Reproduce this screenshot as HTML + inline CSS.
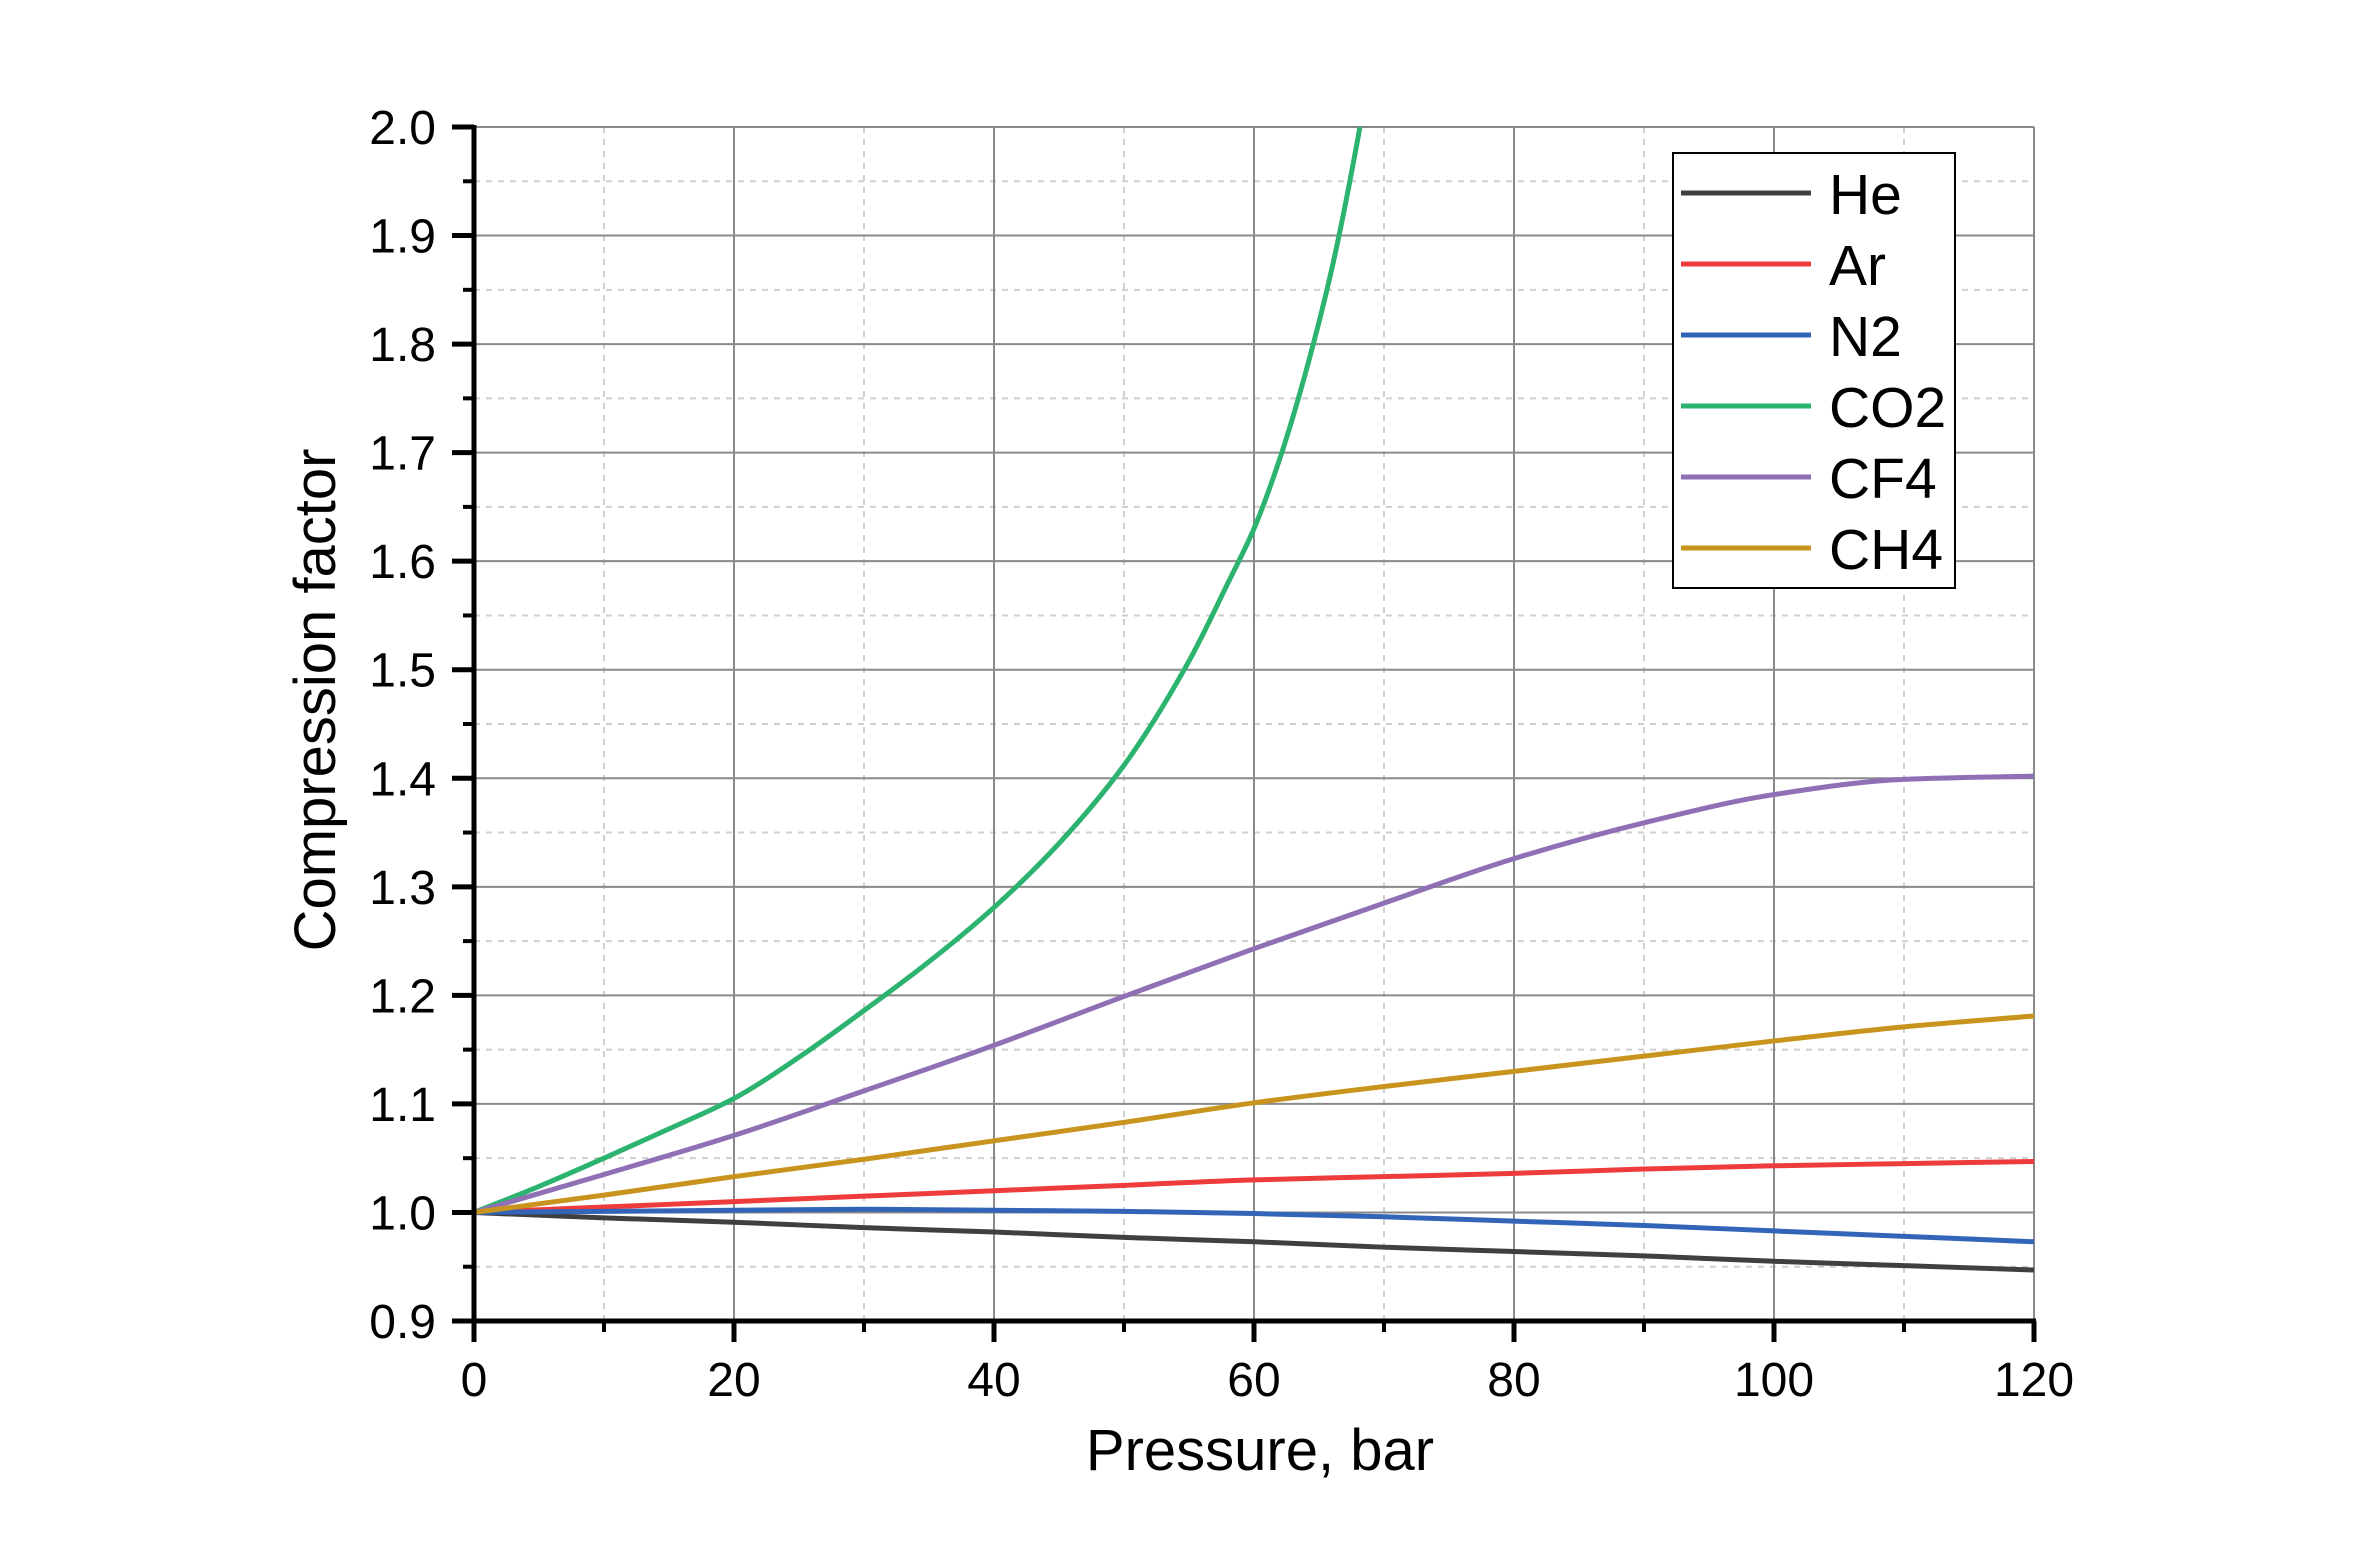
<!DOCTYPE html>
<html><head><meta charset="utf-8"><style>
html,body{margin:0;padding:0;background:#fff;}
svg{display:block;font-family:"Liberation Sans",Arial,sans-serif;}
</style></head><body>
<svg id="chart" width="2362" height="1567" viewBox="0 0 2362 1567" xmlns="http://www.w3.org/2000/svg">
<defs><clipPath id="plotclip"><rect x="474" y="127" width="1560" height="1194"/></clipPath></defs>
<g id="grid"></g>
<g id="series" clip-path="url(#plotclip)"></g>
<g id="axes"></g>
<text x="0" y="0" transform="translate(335,700) rotate(-90)" text-anchor="middle" font-size="58">Compression factor</text>
<text x="1260" y="1470" text-anchor="middle" font-size="58">Pressure, bar</text>
<g id="legend"></g>
</svg>
<script>
const xTicks = [0,20,40,60,80,100,120];
const yTicks = [0.9,1.0,1.1,1.2,1.3,1.4,1.5,1.6,1.7,1.8,1.9,2.0];
const yTickLabels = ["0.9","1.0","1.1","1.2","1.3","1.4","1.5","1.6","1.7","1.8","1.9","2.0"];
const seriesNames = ["He","Ar","N2","CO2","CF4","CH4"];
const seriesColors = ["#404040","#ee3b3b","#3264b8","#2bb36f","#8f70b5","#c9941e"];
const pStd = [0,10,20,30,40,50,60,70,80,90,100,110,120];
const zHe  = [1.0,0.995,0.991,0.986,0.982,0.977,0.973,0.968,0.964,0.960,0.955,0.951,0.947];
const zAr  = [1.0,1.005,1.010,1.015,1.020,1.025,1.030,1.033,1.036,1.040,1.043,1.045,1.047];
const zN2  = [1.0,1.001,1.002,1.003,1.002,1.001,0.999,0.996,0.992,0.988,0.983,0.978,0.973];
const zCF4 = [1.0,1.035,1.071,1.112,1.154,1.199,1.243,1.285,1.326,1.359,1.385,1.399,1.402];
const zCH4 = [1.0,1.016,1.033,1.049,1.066,1.083,1.101,1.116,1.130,1.144,1.158,1.171,1.181];
const pCO2 = [0,5,10,15,20,25,30,35,40,45,50,55,58,60,62,64,66,68,69];
const zCO2 = [1.0,1.024,1.050,1.077,1.105,1.143,1.186,1.231,1.281,1.340,1.412,1.508,1.58,1.63,1.695,1.775,1.87,1.99,2.06];

const X0=474, X1=2034, Y0=1321, Y1=127;
const xScale = v => X0 + (v-0)/(120-0)*(X1-X0);
const yScale = v => Y0 - (v-0.9)/(2.0-0.9)*(Y0-Y1);
const NS="http://www.w3.org/2000/svg";
function mk(tag, attrs, parent){const e=document.createElementNS(NS,tag);for(const k in attrs)e.setAttribute(k,attrs[k]);parent.appendChild(e);return e;}
const grid=document.getElementById('grid'), axes=document.getElementById('axes'), ser=document.getElementById('series'), leg=document.getElementById('legend');

for(let v=10; v<120; v+=20){const x=xScale(v);
  const l=mk('line',{x1:x,y1:Y1,x2:x,y2:Y0,stroke:'#cfcfcf','stroke-width':2,'stroke-dasharray':'6 6'},grid);
  
  }
for(let i=0;i<11;i++){const y=yScale(0.95+i*0.1);
  const l=mk('line',{x1:X0,y1:y,x2:X1,y2:y,stroke:'#cfcfcf','stroke-width':2,'stroke-dasharray':'6 6'},grid);
  
  }
xTicks.forEach(v=>{if(v===0)return;const x=xScale(v);
  const l=mk('line',{x1:x,y1:Y1,x2:x,y2:Y0,stroke:'#8a8a8a','stroke-width':2},grid);
  
  });
yTicks.forEach(v=>{if(v===0.9)return;const y=yScale(v);
  const l=mk('line',{x1:X0,y1:y,x2:X1,y2:y,stroke:'#8a8a8a','stroke-width':2},grid);
  
  });

// monotone cubic (Fritsch-Carlson) path, handles non-uniform spacing
function smoothPath(xs, ys){
  const px=xs.map(xScale), py=ys.map(yScale), n=px.length;
  const d=[],m=new Array(n);
  for(let i=0;i<n-1;i++) d.push((py[i+1]-py[i])/(px[i+1]-px[i]));
  m[0]=d[0]; m[n-1]=d[n-2];
  for(let i=1;i<n-1;i++){
    if(d[i-1]*d[i]<=0) m[i]=0;
    else {const h0=px[i]-px[i-1],h1=px[i+1]-px[i];
      const w1=2*h1+h0,w2=h1+2*h0;
      m[i]=(w1+w2)/(w1/d[i-1]+w2/d[i]);}
  }
  let s='M'+px[0]+','+py[0];
  for(let i=0;i<n-1;i++){const h=px[i+1]-px[i];
    s+=' C'+(px[i]+h/3)+','+(py[i]+m[i]*h/3)+' '+(px[i+1]-h/3)+','+(py[i+1]-m[i+1]*h/3)+' '+px[i+1]+','+py[i+1];}
  return s;
}
const seriesData=[[pStd,zHe],[pStd,zAr],[pStd,zN2],[pCO2,zCO2],[pStd,zCF4],[pStd,zCH4]];
seriesData.forEach((s,i)=>{
  const p=mk('path',{d:smoothPath(s[0],s[1]),fill:'none',stroke:seriesColors[i],'stroke-width':5,'stroke-linejoin':'round'},ser);
  
  
});

const ya=mk('line',{x1:X0,y1:Y1-2,x2:X0,y2:Y0+21,stroke:'#000','stroke-width':5},axes);


const xa=mk('line',{x1:X0-22,y1:Y0,x2:X1+2,y2:Y0,stroke:'#000','stroke-width':5},axes);


xTicks.forEach(v=>{const x=xScale(v);
  const t=mk('line',{x1:x,y1:Y0,x2:x,y2:Y0+21,stroke:'#000','stroke-width':5},axes);
  
  
  const tx=mk('text',{x:x,y:1396,'text-anchor':'middle','font-size':48},axes);
  tx.textContent=String(v);
  
  });
for(let v=10;v<120;v+=20){const x=xScale(v);
  const t=mk('line',{x1:x,y1:Y0,x2:x,y2:Y0+11,stroke:'#000','stroke-width':4},axes);
  
  }
yTicks.forEach((v,i)=>{const y=yScale(v);
  const t=mk('line',{x1:X0-22,y1:y,x2:X0,y2:y,stroke:'#000','stroke-width':5},axes);
  
  
  const tx=mk('text',{x:436,y:y+17,'text-anchor':'end','font-size':48},axes);
  tx.textContent=yTickLabels[i];
  
  });
for(let i=0;i<11;i++){const y=yScale(0.95+i*0.1);
  const t=mk('line',{x1:X0-11,y1:y,x2:X0,y2:y,stroke:'#000','stroke-width':4},axes);
  
  }

const box=mk('rect',{x:1673,y:153,width:282,height:435,fill:'#fff',stroke:'#000','stroke-width':2},leg);


seriesNames.forEach((n,i)=>{const y=193+i*71;
  const g=mk('g',{},leg);
  
  
  mk('line',{x1:1681,y1:y,x2:1811,y2:y,stroke:seriesColors[i],'stroke-width':5},g);
  const t=mk('text',{x:1829,y:y+21,'font-size':57},g);
  t.textContent=n;});
</script>
</body></html>
